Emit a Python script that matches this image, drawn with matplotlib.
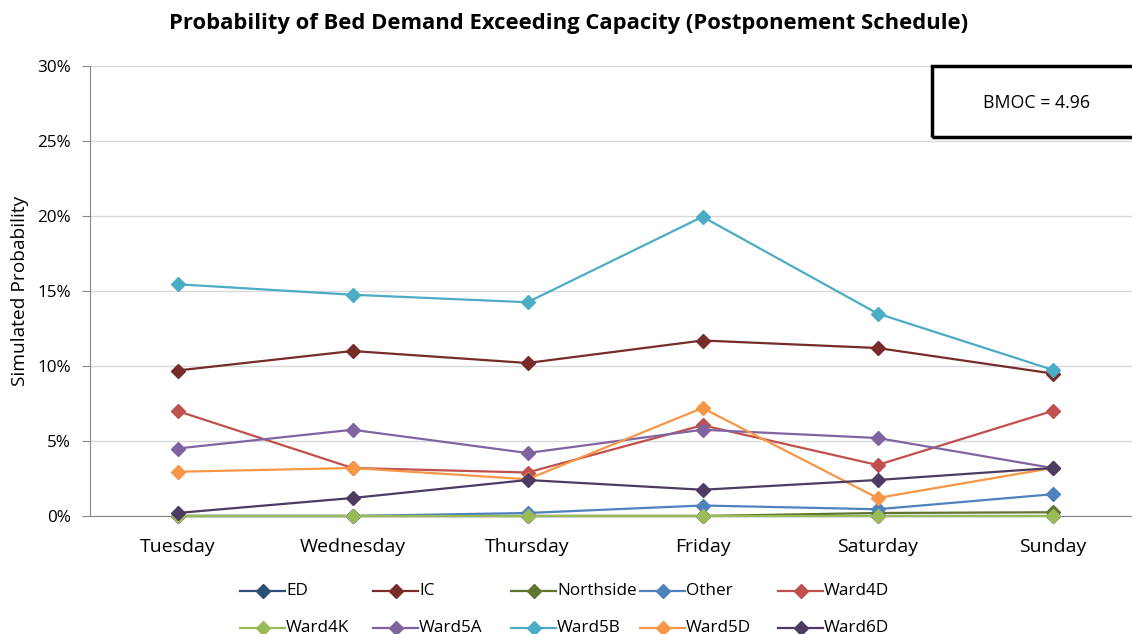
import matplotlib.pyplot as plt
from matplotlib.lines import Line2D
from matplotlib.patches import Rectangle
from matplotlib.ticker import FuncFormatter

plt.rcParams['font.family'] = ['Open Sans', 'DejaVu Sans']

days = ['Tuesday', 'Wednesday', 'Thursday', 'Friday', 'Saturday', 'Sunday']
units = ['ED', 'IC', 'Northside', 'Other', 'Ward4D',
         'Ward4K', 'Ward5A', 'Ward5B', 'Ward5D', 'Ward6D']

# simulated probability (%) that demand exceeds capacity, per unit and day
ed = [0, 0, 0, 0, 0, 0]
ic = [9.7, 11.0, 10.2, 11.7, 11.2, 9.5]
northside = [0, 0, 0, 0, 0.2, 0.25]
other = [0, 0, 0.2, 0.7, 0.45, 1.45]
ward4d = [7.0, 3.2, 2.9, 6.05, 3.4, 7.0]
ward4k = [0, 0, 0, 0, 0, 0]
ward5a = [4.5, 5.75, 4.2, 5.75, 5.2, 3.2]
ward5b = [15.45, 14.75, 14.25, 19.95, 13.5, 9.75]
ward5d = [2.95, 3.2, 2.45, 7.2, 1.2, 3.2]
ward6d = [0.2, 1.2, 2.4, 1.75, 2.4, 3.2]

colors = ['#2C4D75', '#772C2A', '#5F7530', '#4F81BD', '#C0504D',
          '#9BBB59', '#8064A2', '#4BACC6', '#F79646', '#4D3B62']
series = [ed, ic, northside, other, ward4d, ward4k, ward5a, ward5b, ward5d, ward6d]

W, H = 1132, 634
fig = plt.figure(figsize=(W / 100, H / 100), dpi=100)
ax = fig.add_axes([90 / W, 1 - 516 / H, 1050 / W, 450 / H])

x = list(range(len(days)))
for name, vals, c in zip(units, series, colors):
    ax.plot(x, vals, color=c, lw=1.6, marker='D', ms=7.5,
            mec=c, label=name, zorder=3, clip_on=False)

ax.set_xlim(-0.5, 5.5)
ax.set_ylim(0, 30)
ax.set_yticks(range(0, 31, 5))
ax.yaxis.set_major_formatter(FuncFormatter(lambda v, p: f'{v:.0f}%'))
ax.set_xticks(x)
ax.set_xticklabels(days)
ax.tick_params(axis='x', length=0, labelsize=14, pad=16)
ax.tick_params(axis='y', length=5.5, color='#868686', labelsize=12.3, pad=8)
ax.grid(axis='y', color='#D9D9D9', lw=1)
ax.set_axisbelow(True)
for s in ['top', 'right']:
    ax.spines[s].set_visible(False)
ax.spines['left'].set_color('#868686')
ax.spines['bottom'].set_color('#868686')
ax.set_ylabel('Simulated Probability', fontsize=13.8, labelpad=6)

fig.text(0.502, 1 - 23 / H, 'Probability of Bed Demand Exceeding Capacity (Postponement Schedule)',
         ha='center', va='center', fontsize=15.8, fontweight='bold')

# BMOC box in the upper right corner
fig.patches.append(Rectangle((932 / W, 1 - 137 / H), 220 / W, 71 / H,
                             transform=fig.transFigure, fill=False,
                             ec='black', lw=2.5, zorder=5))
fig.text(1037 / W, 1 - 103 / H, 'BMOC = 4.96', ha='center', va='center', fontsize=12.8)

# legend entries laid out by hand, two rows of five
col_x = [240, 373, 511, 640, 778]
row_y = [591, 628]
for i, (name, c) in enumerate(zip(units, colors)):
    lx = col_x[i % 5]
    ly = 1 - row_y[i // 5] / H
    fig.add_artist(Line2D([lx / W, (lx + 45) / W], [ly, ly], color=c, lw=1.6,
                          transform=fig.transFigure))
    fig.add_artist(Line2D([(lx + 22.5) / W], [ly], color=c, marker='D', ms=7.5,
                          mec=c, transform=fig.transFigure))
    fig.text((lx + 46) / W, ly, name, ha='left', va='center', fontsize=12.3)

fig.savefig('out.png', dpi=100)
